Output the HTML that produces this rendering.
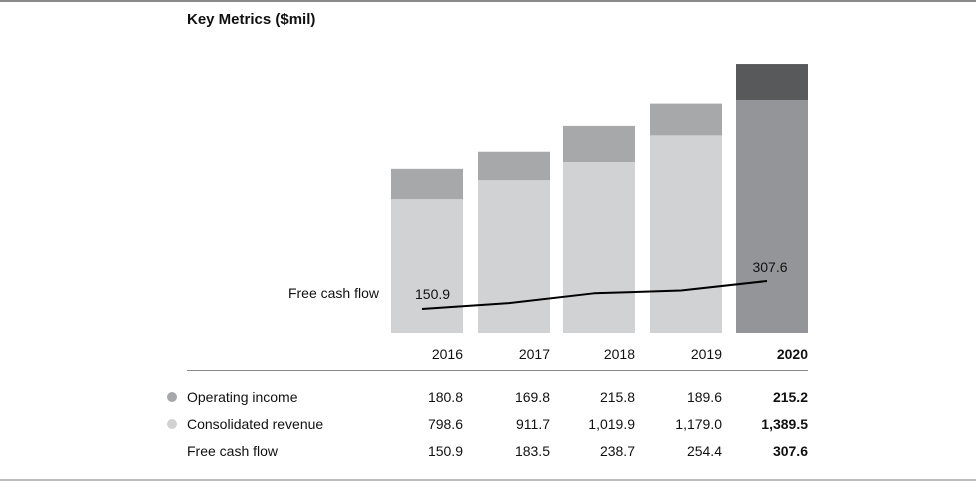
<!DOCTYPE html>
<html><head><meta charset="utf-8"><style>
body{margin:0;background:#fff;}
svg text{font-family:"Liberation Sans Narrow","Liberation Sans",sans-serif;}
</style></head><body>
<svg width="976" height="488" viewBox="0 0 976 488" xmlns="http://www.w3.org/2000/svg">
<rect x="0" y="0" width="976" height="2" fill="#8a8a8a"/>
<rect x="0" y="479" width="976" height="2" fill="#bcbcbc"/>
<text x="187" y="24" font-size="15" font-weight="bold" fill="#111">Key Metrics ($mil)</text>
<g id="bars"></g>
<g id="line"></g>
<text x="379" y="298" font-size="14" fill="#111" text-anchor="end">Free cash flow</text>
<rect x="187" y="370" width="621" height="1" fill="#888"/>
<g id="table"></g>
</svg>
<script>
const years = ["2016","2017","2018","2019","2020"];
const operatingIncome = [180.8,169.8,215.8,189.6,215.2];
const revenue = [798.6,911.7,1019.9,1179.0,1389.5];
const fcf = [150.9,183.5,238.7,254.4,307.6];
const opLabels = ["180.8","169.8","215.8","189.6","215.2"];
const revLabels = ["798.6","911.7","1,019.9","1,179.0","1,389.5"];
const fcfLabels = ["150.9","183.5","238.7","254.4","307.6"];

const NS="http://www.w3.org/2000/svg";
const barLeft=[391,478,563,650,736], barW=72, base=333;
function yBar(v){return base - v*0.1676;}
function yLine(v){return 309 - (v-150.9)*0.1787;}
function xC(i){return barLeft[i]+barW/2;}
function mk(tag,attrs,parent){const e=document.createElementNS(NS,tag);for(const k in attrs)e.setAttribute(k,attrs[k]);parent.appendChild(e);return e;}
const gb=document.getElementById('bars');
years.forEach((y,i)=>{
  const last=i===years.length-1;
  const r1=mk('rect',{x:barLeft[i],y:yBar(revenue[i]),width:barW,height:base-yBar(revenue[i]),fill:last?'#939598':'#d1d2d4'},gb);
  
  
  const t=revenue[i]+operatingIncome[i];
  const r2=mk('rect',{x:barLeft[i],y:yBar(t),width:barW,height:yBar(revenue[i])-yBar(t),fill:last?'#58595b':'#a7a8aa'},gb);
  
  
  const tx=mk('text',{x:barLeft[i]+barW,y:359,'font-size':14,'text-anchor':'end',fill:'#111','font-weight':last?'bold':'normal'},gb);
  tx.textContent=y;
  
  
});
const gl=document.getElementById('line');
const pts=fcf.map((v,i)=>(xC(i)-5)+','+yLine(v)).join(' ');
const pl=mk('polyline',{points:pts,fill:'none',stroke:'#000','stroke-width':2,'stroke-linejoin':'round'},gl);


const l1=mk('text',{x:xC(0)-12,y:yLine(fcf[0])-10,'font-size':14,fill:'#111'},gl);
l1.textContent=fcfLabels[0];


const n=fcf.length-1;
const l2=mk('text',{x:xC(n)-2,y:yLine(fcf[n])-9,'font-size':14,fill:'#111','text-anchor':'middle'},gl);
l2.textContent=fcfLabels[n];



const gt=document.getElementById('table');
const rows=[["Operating income",opLabels,'#a7a8aa',402],["Consolidated revenue",revLabels,'#d1d2d4',429],["Free cash flow",fcfLabels,null,456]];
rows.forEach((r,ri)=>{
  if(r[2]){const c=mk('circle',{cx:172,cy:r[3]-5,r:5,fill:r[2]},gt);
    
    }
  const lab=mk('text',{x:187,y:r[3],'font-size':14,fill:'#111'},gt);
  lab.textContent=r[0];
  
  
  r[1].forEach((v,i)=>{
    const t=mk('text',{x:barLeft[i]+barW,y:r[3],'font-size':14,'text-anchor':'end',fill:'#111','font-weight':i===4?'bold':'normal'},gt);
    t.textContent=v;
    
    
  });
});
</script>
</body></html>
